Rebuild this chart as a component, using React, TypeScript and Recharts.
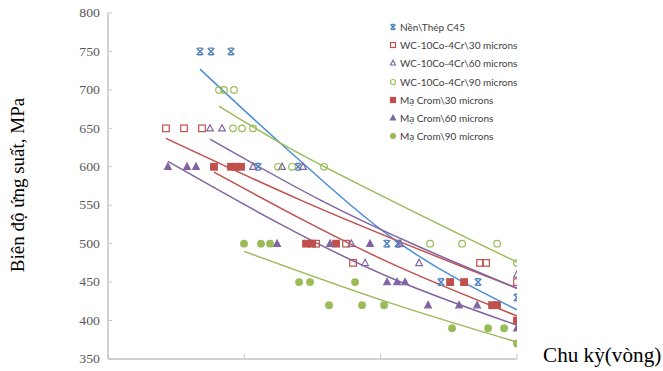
import React from 'react';
import { ComposedChart, Scatter, Line, XAxis, YAxis, Legend, Label } from 'recharts';

type Pt = [number, number];

// [cycles, stress MPa]
const thepC45: Pt[] = [
  [47300, 750], [57000, 750], [79900, 750], [126000, 600], [248000, 600],
  [1110000, 500], [1340000, 500], [2770000, 450], [5180000, 450], [10000000, 430],
];
const wc30: Pt[] = [
  [26600, 650], [36100, 650], [48900, 650], [335700, 500], [557500, 500],
  [627500, 475], [5360000, 475], [5930000, 475], [10000000, 450],
];
const wc60: Pt[] = [
  [56000, 650], [68600, 650], [115800, 600], [189100, 600], [269600, 600],
  [610000, 500], [1388000, 500], [768500, 475], [1912000, 475], [10000000, 460],
];
const wc90: Pt[] = [
  [65200, 700], [71000, 700], [84000, 700], [82600, 650], [96200, 650], [115800, 650],
  [176700, 600], [223900, 600], [384300, 600], [2304000, 500], [3956000, 500],
  [7140000, 500], [10000000, 475],
];
const crom30: Pt[] = [
  [59900, 600], [79900, 600], [86900, 600], [94600, 600], [283600, 500], [313800, 500],
  [470800, 500], [3230000, 450], [4090000, 450], [6570000, 420], [7140000, 420], [10000000, 400],
];
const crom60: Pt[] = [
  [27500, 600], [38000, 600], [44200, 600], [173800, 500], [425400, 500], [836000, 500],
  [1114000, 450], [1319000, 450], [1510000, 450], [2227000, 420], [3760000, 420],
  [5100000, 420], [10000000, 390],
];
const crom90: Pt[] = [
  [99500, 500], [132600, 500], [154400, 500], [252000, 450], [303400, 450], [649100, 450],
  [418200, 420], [730300, 420], [1059000, 420], [3340000, 390], [6140000, 390],
  [8040000, 390], [10000000, 370],
];

// trend curves
const trendC45: Pt[] = [[47300, 727], [183000, 631], [1390000, 500], [10000000, 414]];
const trendWc30: Pt[] = [[26600, 637], [256000, 557], [10000000, 442]];
const trendWc60: Pt[] = [[56000, 636], [359000, 557], [10000000, 442]];
const trendWc90: Pt[] = [[65200, 679], [183000, 631], [1170000, 557], [10000000, 476]];
const trendCrom30: Pt[] = [[59900, 593], [1170000, 475], [10000000, 406]];
const trendCrom60: Pt[] = [[27500, 607], [1170000, 456], [10000000, 394]];
const trendCrom90: Pt[] = [[99500, 490], [1170000, 423], [10000000, 372]];

const xTicks = [10000, 100000, 1000000, 10000000];
const yTicks = [350, 400, 450, 500, 550, 600, 650, 700, 750, 800];

const BLUE = '#4F81BD';
const RED = '#C0504D';
const GREEN = '#9BBB59';
const PURPLE = '#8064A2';

type Kind = 'x' | 'square' | 'triangle' | 'circle' | 'squareFill' | 'triangleFill' | 'circleFill';

const series: { name: string; color: string; lineColor: string; kind: Kind; points: Pt[]; trend: Pt[] }[] = [
  { name: 'Nền\\Thép C45', color: BLUE, lineColor: '#4A8ED6', kind: 'x', points: thepC45, trend: trendC45 },
  { name: 'WC-10Co-4Cr\\30 microns', color: RED, lineColor: RED, kind: 'square', points: wc30, trend: trendWc30 },
  { name: 'WC-10Co-4Cr\\60 microns', color: PURPLE, lineColor: PURPLE, kind: 'triangle', points: wc60, trend: trendWc60 },
  { name: 'WC-10Co-4Cr\\90 microns', color: GREEN, lineColor: GREEN, kind: 'circle', points: wc90, trend: trendWc90 },
  { name: 'Mạ Crom\\30 microns', color: RED, lineColor: RED, kind: 'squareFill', points: crom30, trend: trendCrom30 },
  { name: 'Mạ Crom\\60 microns', color: PURPLE, lineColor: PURPLE, kind: 'triangleFill', points: crom60, trend: trendCrom60 },
  { name: 'Mạ Crom\\90 microns', color: GREEN, lineColor: GREEN, kind: 'circleFill', points: crom90, trend: trendCrom90 },
];

const toRows = (pts: Pt[]) => pts.map(([x, y]) => ({ x, y }));

const marker = (kind: Kind, color: string, cx: number, cy: number, s: number) => {
  switch (kind) {
    case 'x':
      return (
        <g stroke={color} strokeWidth={1.4} fill="none">
          <path d={`M${cx - s} ${cy - s}L${cx + s} ${cy + s}M${cx - s} ${cy + s}L${cx + s} ${cy - s}`} />
          <path d={`M${cx - s * 0.7} ${cy - s}H${cx + s * 0.7}M${cx - s * 0.7} ${cy + s}H${cx + s * 0.7}`} />
        </g>
      );
    case 'square':
    case 'squareFill':
      return (
        <rect x={cx - s} y={cy - s} width={s * 2} height={s * 2}
          fill={kind === 'squareFill' ? color : 'none'} stroke={color} strokeWidth={1.2} />
      );
    case 'triangle':
    case 'triangleFill':
      return (
        <path d={`M${cx} ${cy - s * 1.1}L${cx + s} ${cy + s * 0.8}L${cx - s} ${cy + s * 0.8}Z`}
          fill={kind === 'triangleFill' ? color : 'none'} stroke={color} strokeWidth={1.2} />
      );
    default:
      return (
        <circle cx={cx} cy={cy} r={s}
          fill={kind === 'circleFill' ? color : 'none'} stroke={color} strokeWidth={1.2} />
      );
  }
};

const YTick = (props: any) => {
  const { x, y, payload } = props;
  return (
    <g>
      <line x1={x} x2={x + 4} y1={y} y2={y} stroke="#C8C8C8" />
      <text transform={`translate(${x - 8},${y}) scale(1.15,1)`} textAnchor="end" dominantBaseline="central"
        fontFamily="'Liberation Serif', serif" fontSize={12} fill="#595959">
        {payload.value}
      </text>
    </g>
  );
};

// labels sit low so only their tops show above the bottom edge
const XTick = (props: any) => {
  const { x, y, payload } = props;
  return (
    <g>
      <line x1={x} x2={x} y1={y} y2={y - 5} stroke="#C8C8C8" />
      <text transform={`translate(${x},${y + 19}) scale(1.15,1)`} textAnchor="middle"
        fontFamily="'Liberation Serif', serif" fontSize={11} fill="#595959">
        {payload.value}
      </text>
    </g>
  );
};

const XTitle = () => (
  <g>
    <rect x={524} y={340} width={139} height={50} fill="#fff" />
    <text transform="translate(543,362) scale(1.06,1)" fontFamily="'Liberation Serif', serif" fontSize={20} fill="#000">
      Chu kỳ(vòng)
    </text>
  </g>
);

const YTitle = () => (
  <text transform="translate(24,185) rotate(-90)" textAnchor="middle"
    fontFamily="'Liberation Serif', serif" fontSize={19} fill="#000">
    Biên độ ứng suất, MPa
  </text>
);

const LegendBox = () => (
  <div style={{ fontFamily: 'Lato, sans-serif', fontSize: 10, color: '#404040' }}>
    {series.map((s) => (
      <div key={s.name} style={{ height: 18.2, display: 'flex', alignItems: 'center', whiteSpace: 'nowrap' }}>
        <svg width={10} height={10} style={{ marginRight: 2 }}>
          {marker(s.kind, s.color, 5, 5, 2.5)}
        </svg>
        <span>{s.name}</span>
      </div>
    ))}
  </div>
);

export default function App() {
  return (
    <div style={{ position: 'fixed', left: 0, top: 0, width: 663, height: 371, overflow: 'hidden', background: '#fff' }}>
      <ComposedChart width={663} height={390} margin={{ top: 13, right: 146, bottom: 1, left: 0 }}>
        <XAxis dataKey="x" type="number" scale="log" domain={[10000, 10000000]} ticks={xTicks}
          allowDataOverflow height={30} tickSize={0} tickMargin={0} tickLine={false}
          axisLine={{ stroke: '#A6A6A6' }} tick={<XTick />} interval={0}>
          <Label content={<XTitle />} />
        </XAxis>
        <YAxis dataKey="y" type="number" domain={[350, 800]} ticks={yTicks} width={108}
          tickSize={0} tickMargin={0} tickLine={false} axisLine={{ stroke: '#A6A6A6' }}
          tick={<YTick />} interval={0}>
          <Label content={<YTitle />} />
        </YAxis>
        {series.map((s) => (
          <Line key={`t-${s.name}`} data={toRows(s.trend)} dataKey="y" type="monotone"
            stroke={s.lineColor} strokeWidth={1.5} dot={false} activeDot={false}
            legendType="none" isAnimationActive={false} />
        ))}
        {series.map((s) => (
          <Scatter key={s.name} name={s.name} data={toRows(s.points)} dataKey="y"
            shape={(p: any) => marker(s.kind, s.color, p.cx, p.cy, 3.3)} isAnimationActive={false} />
        ))}
        <Legend layout="horizontal" verticalAlign="middle" align="center" content={<LegendBox />}
          wrapperStyle={{ left: 388, top: 18, width: 220, height: 130 }} />
      </ComposedChart>
    </div>
  );
}
